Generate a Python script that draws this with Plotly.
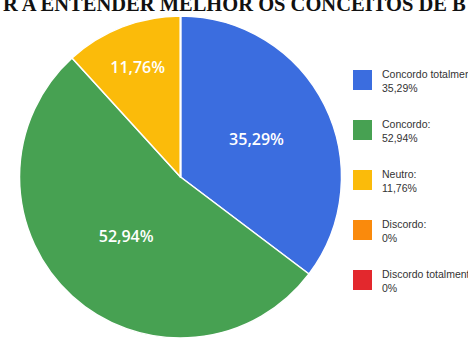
import plotly.graph_objects as go

labels = ["Concordo totalmente", "Concordo", "Neutro", "Discordo", "Discordo totalmente"]
values = [6, 9, 2, 0, 0]
colors = ["#3b6ddf", "#47a152", "#fbbb0a", "#fa8a0c", "#e3282d"]
title_text = "R A ENTENDER MELHOR OS CONCEITOS DE B"

W, H = 468, 340
total = sum(values)


def fmt_pct(v):
    p = v / total * 100
    if p == 0:
        return "0%"
    return f"{p:.2f}".replace(".", ",") + "%"


fig = go.Figure()
fig.add_trace(go.Pie(
    labels=labels,
    values=values,
    sort=False,
    direction="clockwise",
    rotation=0,
    marker=dict(colors=colors, line=dict(color="white", width=1.5)),
    texttemplate="%{percent:.2%}",
    textposition="inside",
    insidetextorientation="horizontal",
    textfont=dict(family="Open Sans", size=16, color="white", weight=600),
    showlegend=False,
    hoverinfo="label+percent",
    domain=dict(x=[180.5 / W - 161 / W, 180.5 / W + 161 / W],
                y=[(H - 177) / H - 161 / H, (H - 177) / H + 161 / H]),
))

shapes = []
annotations = []
for i, (lab, v, c) in enumerate(zip(labels, values, colors)):
    top = 70 + 50 * i
    shapes.append(dict(type="rect", xref="paper", yref="paper",
                       x0=353 / W, x1=372 / W, y0=1 - (top + 20) / H, y1=1 - top / H,
                       fillcolor=c, line=dict(width=0)))
    annotations.append(dict(xref="paper", yref="paper", x=380 / W, y=1 - (top + 11) / H,
                            xanchor="left", yanchor="middle", align="left", showarrow=False,
                            text=f"{lab}:<br>{fmt_pct(v)}",
                            font=dict(family="Liberation Sans", size=10.5, color="#333333")))

annotations.append(dict(xref="paper", yref="paper", x=0.5, y=1 - 17 / H,
                        xanchor="center", yanchor="bottom", showarrow=False,
                        text=f"<b>{title_text}</b>",
                        font=dict(family="Liberation Serif", size=20.5, color="#111111")))

fig.update_layout(
    width=W, height=H,
    margin=dict(l=0, r=0, t=0, b=0),
    paper_bgcolor="white",
    plot_bgcolor="white",
    separators=",.",
    shapes=shapes,
    annotations=annotations,
)

fig.write_html("out.html")
